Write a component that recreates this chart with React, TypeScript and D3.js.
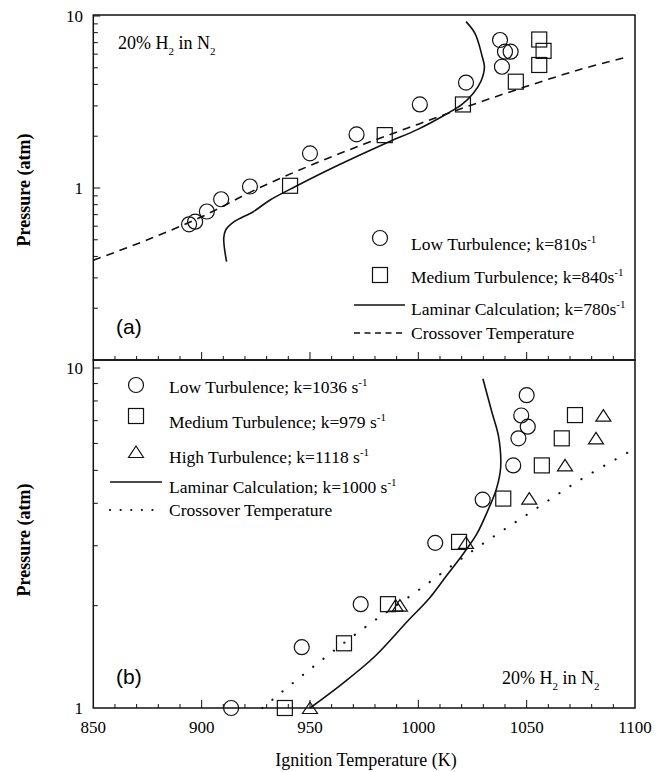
import * as d3 from 'd3';

const W = 661;
const H = 772;

const xTickLabels = [850, 900, 950, 1000, 1050, 1100];

// panel (a)
const aLowT = [894.2, 897, 902.4, 909, 922.3, 950, 971.5, 1000.7, 1022, 1037.7, 1040, 1042.6, 1038.6];
const aLowP = [0.615, 0.637, 0.73, 0.86, 1.02, 1.59, 2.05, 3.06, 4.1, 7.25, 6.2, 6.2, 5.07];
const aMedT = [940.8, 984.5, 1020.6, 1045, 1055.8, 1057.8, 1055.8];
const aMedP = [1.03, 2.03, 3.06, 4.15, 5.19, 6.27, 7.3];
const aLamT = [911.5, 910.2, 911.1, 915, 923.8, 931.6, 943.3, 962.7, 985, 1000, 1012, 1020, 1025.4, 1029, 1030.5, 1029.5, 1026.2, 1022];
const aLamP = [0.373, 0.51, 0.57, 0.637, 0.728, 0.852, 1.02, 1.35, 1.82, 2.2, 2.65, 3.05, 3.55, 4.2, 5.07, 5.8, 7.9, 9.27];
const aCrossT = [850, 875, 900, 925, 950, 975, 1000, 1025, 1050, 1075, 1097];
const aCrossP = [0.38, 0.5, 0.68, 0.98, 1.35, 1.8, 2.35, 3.05, 3.9, 4.9, 5.8];

// panel (b)
const bLowT = [913.6, 946.2, 973.4, 1007.8, 1029.7, 1043.8, 1046.2, 1050.5, 1047.5, 1050];
const bLowP = [1.0, 1.51, 2.02, 3.06, 4.1, 5.17, 6.21, 6.72, 7.25, 8.32];
const bMedT = [938.4, 965.7, 986, 1018.8, 1039.2, 1057, 1066.2, 1072.3];
const bMedP = [1.0, 1.55, 2.02, 3.08, 4.13, 5.17, 6.21, 7.27];
const bHighT = [950, 989.5, 991.5, 1022, 1051.2, 1067.7, 1082, 1085.4];
const bHighP = [1.0, 2.0, 2.0, 3.06, 4.13, 5.17, 6.21, 7.24];
const bLamT = [950, 965, 980, 995, 1005, 1013, 1020, 1027, 1032, 1036, 1038, 1037, 1034, 1029.8];
const bLamP = [1.0, 1.18, 1.42, 1.8, 2.1, 2.45, 2.8, 3.25, 3.8, 4.4, 5.1, 6.3, 7.4, 9.3];
const bCrossT = [928, 950, 975, 1000, 1025, 1050, 1075, 1100];
const bCrossP = [1.0, 1.3, 1.72, 2.22, 2.9, 3.7, 4.7, 5.8];

const SERIF = '"Liberation Serif", "Times New Roman", serif';
const SANS = '"Liberation Sans", Arial, sans-serif';

const x = d3.scaleLinear().domain([850, 1100]).range([93.3, 635]);
const yA = d3.scaleLog().domain([0.1, 10]).range([360, 16]);
const yB = d3.scaleLog().domain([1, 10]).range([708, 368]);

const zip = (a: number[], b: number[]) => a.map((v, i) => [v, b[i]] as [number, number]);

function linePath(ts: number[], ps: number[], y: d3.ScaleLogarithmic<number, number>) {
  return (
    d3
      .line<[number, number]>()
      .x((d) => x(d[0]))
      .y((d) => y(d[1]))
      .curve(d3.curveCatmullRom)(zip(ts, ps)) ?? ''
  );
}

const R = 7.5;
const stroke = '#111';

function Circle({ cx, cy }: { cx: number; cy: number }) {
  return <circle cx={cx} cy={cy} r={R} fill="none" stroke={stroke} strokeWidth={1.2} />;
}
function Square({ cx, cy }: { cx: number; cy: number }) {
  return <rect x={cx - R} y={cy - R} width={2 * R} height={2 * R} fill="none" stroke={stroke} strokeWidth={1.2} />;
}
function Tri({ cx, cy }: { cx: number; cy: number }) {
  const p = d3.path();
  p.moveTo(cx, cy - 6);
  p.lineTo(cx + 7.5, cy + 5.5);
  p.lineTo(cx - 7.5, cy + 5.5);
  p.closePath();
  return <path d={p.toString()} fill="none" stroke={stroke} strokeWidth={1.2} />;
}

function LeftTicks({ y, vals }: { y: d3.ScaleLogarithmic<number, number>; vals: number[] }) {
  return (
    <g>
      {vals.map((v) => {
        const major = Math.abs(Math.log10(v) - Math.round(Math.log10(v))) < 1e-6;
        return <line key={v} x1={x(850)} x2={x(850) + (major ? 7 : 4.5)} y1={y(v)} y2={y(v)} stroke={stroke} strokeWidth={1} />;
      })}
    </g>
  );
}

function BottomTicks({ y0 }: { y0: number }) {
  return (
    <g>
      {d3.range(860, 1100, 10).map((t) => (
        <line key={t} x1={x(t)} x2={x(t)} y1={y0} y2={y0 - (t % 50 === 0 ? 8 : 4)} stroke={stroke} strokeWidth={1} />
      ))}
    </g>
  );
}

function Sup({ base, sup }: { base: string; sup: string }) {
  return (
    <>
      {base}
      <tspan fontSize={11} dy={-7}>{sup}</tspan>
    </>
  );
}

function Mix({ tx, ty }: { tx: number; ty: number }) {
  return (
    <text x={tx} y={ty} fontFamily={SERIF} fontSize={18}>
      20% H<tspan fontSize={11} dy={6}>2</tspan>
      <tspan dy={-6}> in N</tspan>
      <tspan fontSize={11} dy={6}>2</tspan>
    </text>
  );
}

export default function App() {
  const aTicks = [0.2, 0.3, 0.4, 0.5, 0.6, 0.7, 0.8, 0.9, 1, 2, 3, 4, 5, 6, 7, 8, 9, 10];
  const bTicks = [2, 3, 4, 5, 6, 7, 8, 9, 10];
  const x0 = x(850);
  const x1 = x(1100);
  return (
    <svg width={W} height={H} style={{ position: 'absolute', left: 0, top: 0, background: '#fff' }}>
      <rect width={W} height={H} fill="#fff" />
      {/* frames */}
      <rect x={x0} y={15} width={x1 - x0} height={360 - 15} fill="none" stroke={stroke} strokeWidth={1.5} />
      <rect x={x0} y={360} width={x1 - x0} height={708 - 360} fill="none" stroke={stroke} strokeWidth={1.5} />
      <LeftTicks y={yA} vals={aTicks} />
      <LeftTicks y={yB} vals={bTicks} />
      <BottomTicks y0={360} />
      <BottomTicks y0={708} />

      {/* y tick labels */}
      <g fontFamily={SERIF} fontSize={17} textAnchor="end">
        <text x={83} y={yA(10) + 6}>10</text>
        <text x={83} y={yA(1) + 6}>1</text>
        <text x={83} y={yB(10) + 6}>10</text>
        <text x={83} y={yB(1) + 6}>1</text>
      </g>
      {/* x tick labels */}
      <g fontFamily={SERIF} fontSize={17} textAnchor="middle">
        {xTickLabels.map((t) => (
          <text key={t} x={x(t)} y={733}>{t}</text>
        ))}
      </g>
      <text x={366} y={766} fontFamily={SERIF} fontSize={18} textAnchor="middle">Ignition Temperature (K)</text>
      <text transform="translate(30,190) rotate(-90)" fontFamily={SERIF} fontSize={18} fontWeight="bold" textAnchor="middle">Pressure (atm)</text>
      <text transform="translate(30,540) rotate(-90)" fontFamily={SERIF} fontSize={18} fontWeight="bold" textAnchor="middle">Pressure (atm)</text>

      {/* panel (a) */}
      <path d={linePath(aCrossT, aCrossP, yA)} fill="none" stroke={stroke} strokeWidth={1.6} strokeDasharray="8 6" />
      <path d={linePath(aLamT, aLamP, yA)} fill="none" stroke={stroke} strokeWidth={1.6} />
      {zip(aLowT, aLowP).map((d, i) => <Circle key={'al' + i} cx={x(d[0])} cy={yA(d[1])} />)}
      {zip(aMedT, aMedP).map((d, i) => <Square key={'am' + i} cx={x(d[0])} cy={yA(d[1])} />)}
      <Mix tx={118} ty={49} />
      <text x={116} y={334} fontFamily={SANS} fontSize={21}>(a)</text>
      <g fontFamily={SERIF} fontSize={17.5}>
        <Circle cx={380} cy={238} />
        <text x={411} y={250}><Sup base="Low Turbulence; k=810s" sup="-1" /></text>
        <Square cx={380} cy={275} />
        <text x={411} y={283}><Sup base="Medium Turbulence; k=840s" sup="-1" /></text>
        <line x1={354} x2={405} y1={305} y2={305} stroke={stroke} strokeWidth={1.6} />
        <text x={411} y={315}><Sup base="Laminar Calculation; k=780s" sup="-1" /></text>
        <line x1={354} x2={405} y1={333} y2={333} stroke={stroke} strokeWidth={1.6} strokeDasharray="6 4.5" />
        <text x={411} y={339}>Crossover Temperature</text>
      </g>

      {/* panel (b) */}
      <path d={linePath(bCrossT, bCrossP, yB)} fill="none" stroke={stroke} strokeWidth={2.2} strokeDasharray="0.1 13" strokeLinecap="round" />
      <path d={linePath(bLamT, bLamP, yB)} fill="none" stroke={stroke} strokeWidth={1.6} />
      {zip(bLowT, bLowP).map((d, i) => <Circle key={'bl' + i} cx={x(d[0])} cy={yB(d[1])} />)}
      {zip(bMedT, bMedP).map((d, i) => <Square key={'bm' + i} cx={x(d[0])} cy={yB(d[1])} />)}
      {zip(bHighT, bHighP).map((d, i) => <Tri key={'bh' + i} cx={x(d[0])} cy={yB(d[1])} />)}
      <Mix tx={502} ty={684} />
      <text x={116} y={684} fontFamily={SANS} fontSize={21}>(b)</text>
      <g fontFamily={SERIF} fontSize={17.5}>
        <Circle cx={136} cy={385} />
        <text x={169} y={393}><Sup base="Low Turbulence; k=1036 s" sup="-1" /></text>
        <Square cx={136} cy={416} />
        <text x={169} y={428}><Sup base="Medium Turbulence; k=979 s" sup="-1" /></text>
        <Tri cx={136} cy={452} />
        <text x={169} y={463}><Sup base="High Turbulence; k=1118 s" sup="-1" /></text>
        <line x1={110} x2={162} y1={482} y2={482} stroke={stroke} strokeWidth={1.6} />
        <text x={169} y={493}><Sup base="Laminar Calculation; k=1000 s" sup="-1" /></text>
        <line x1={110} x2={162} y1={510} y2={510} stroke={stroke} strokeWidth={2.2} strokeDasharray="0.1 10.5" strokeLinecap="round" />
        <text x={169} y={516}>Crossover Temperature</text>
      </g>
    </svg>
  );
}
